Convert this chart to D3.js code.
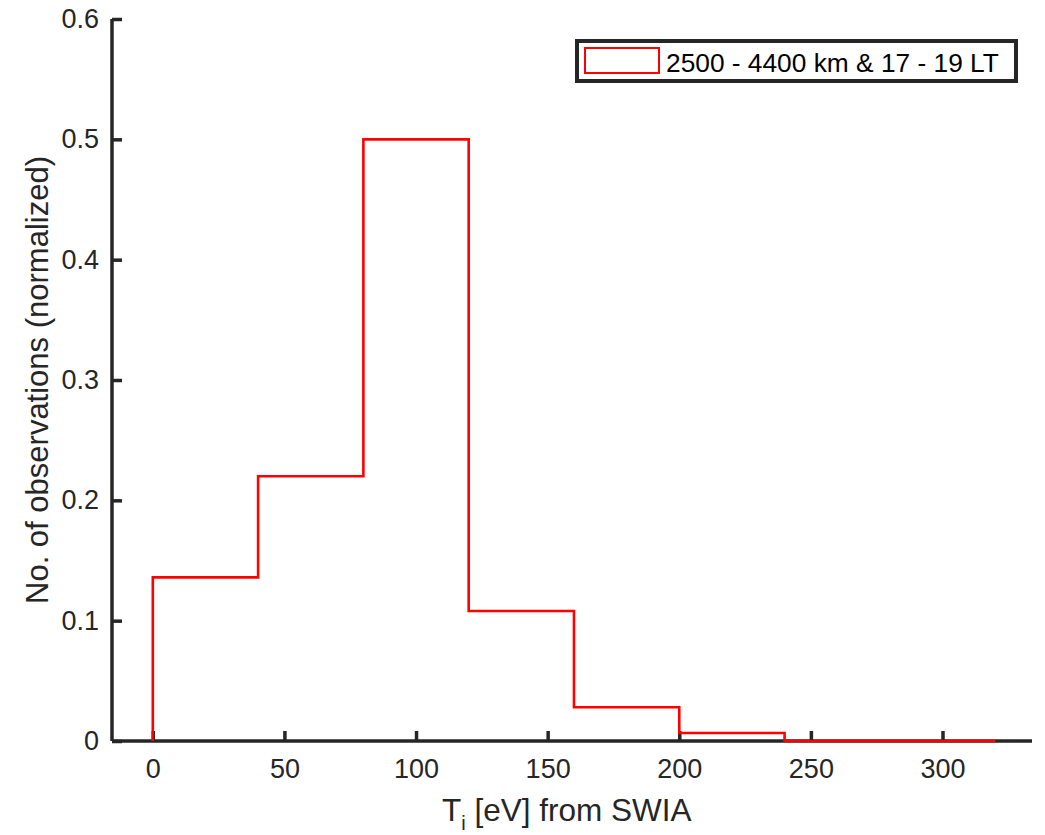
<!DOCTYPE html>
<html><head><meta charset="utf-8">
<script src="https://cdn.jsdelivr.net/npm/d3@7"></script>
<style>body{margin:0;background:#fff}svg{display:block}text{font-family:"Liberation Sans",Arial,Helvetica,sans-serif}</style>
</head><body><svg id="c" width="1045" height="835"></svg>
<script>
const binEdges = [0, 40, 80, 120, 160, 200, 240, 280, 320];
const binValues = [0.136, 0.22, 0.5, 0.108, 0.028, 0.0066, 0, 0];
const xTicks = [0, 50, 100, 150, 200, 250, 300];
const yTicks = [0, 0.1, 0.2, 0.3, 0.4, 0.5, 0.6];
const legendLabel = "2500 - 4400 km & 17 - 19 LT";

const svg = d3.select("#c");
const L = 112, R = 1032, T = 19, B = 741;
const x = d3.scaleLinear().domain([-15.5, 334]).range([L, R]);
const y = d3.scaleLinear().domain([0, 0.6]).range([B, T]);
const axCol = "#262626";
const FF = "Liberation Sans, Arial, sans-serif";

// step outline
const pts = [[binEdges[0], 0]];
binValues.forEach((v, i) => { pts.push([binEdges[i], v]); pts.push([binEdges[i + 1], v]); });
pts.push([binEdges[binEdges.length - 1], 0]);

// axes
const xAxis = d3.axisBottom(x).tickValues(xTicks).tickSize(-10).tickPadding(18).tickFormat(d3.format("d"));
const gx = svg.append("g").attr("transform", `translate(0,${B})`).call(xAxis);
gx.select(".domain").attr("d", `M${L},0H${R}`).attr("stroke", axCol).attr("stroke-width", 3.5);
gx.selectAll(".tick line").attr("stroke", axCol).attr("stroke-width", 3.5);
gx.selectAll(".tick text").attr("fill", axCol).attr("font-size", 27).attr("font-family", FF);

const yAxis = d3.axisLeft(y).tickValues(yTicks).tickSize(-10).tickPadding(13).tickFormat(d => d === 0 ? "0" : d3.format(".1f")(d));
const gy = svg.append("g").attr("transform", `translate(${L},0)`).call(yAxis);
gy.select(".domain").attr("d", `M0,${B}V${T}`).attr("stroke", axCol).attr("stroke-width", 3.5);
gy.selectAll(".tick line").attr("stroke", axCol).attr("stroke-width", 3.5);
gy.selectAll(".tick text").attr("fill", axCol).attr("font-size", 27).attr("font-family", FF);

svg.append("path")
  .attr("d", d3.line().x(d => x(d[0])).y(d => y(d[1]))(pts))
  .attr("fill", "none").attr("stroke", "#ff0000").attr("stroke-width", 2.6)
  .attr("stroke-linejoin", "miter");

// axis labels
const xl = svg.append("text").attr("x", 442).attr("y", 821).attr("text-anchor", "start")
  .attr("font-size", 31.5).attr("fill", axCol);
xl.append("tspan").text("T");
xl.append("tspan").attr("font-size", 20).attr("dy", 9).text("i");
xl.append("tspan").attr("dy", -9).text(" [eV] from SWIA");

svg.append("text").attr("transform", `translate(48,380) rotate(-90)`).attr("text-anchor", "middle")
  .attr("font-size", 31).attr("fill", axCol).text("No. of observations (normalized)");

// legend
const lg = svg.append("g");
lg.append("rect").attr("x", 577).attr("y", 41).attr("width", 439).attr("height", 40)
  .attr("fill", "#fff").attr("stroke", axCol).attr("stroke-width", 4);
lg.append("rect").attr("x", 585).attr("y", 48).attr("width", 74).attr("height", 25)
  .attr("fill", "#fff").attr("stroke", "#ff0000").attr("stroke-width", 2);
lg.append("text").attr("x", 666).attr("y", 72).attr("font-size", 26.3).attr("fill", "#000").text(legendLabel);
</script></body></html>
